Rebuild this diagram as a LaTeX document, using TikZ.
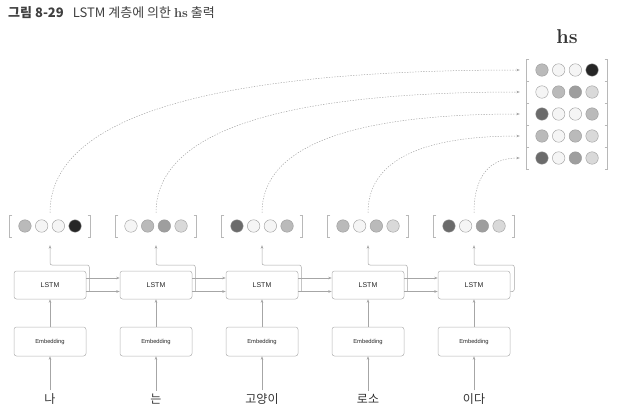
\documentclass[tikz,border=0pt]{standalone}
\usepackage{fontspec}
\newfontfamily\sans{Liberation Sans}
\newfontfamily\kr{Noto Sans CJK KR}
\usetikzlibrary{arrows.meta,calc}

\colorlet{cw}{black!4}
\colorlet{cl}{black!15}
\colorlet{cm}{black!27}
\colorlet{cd}{black!38}
\colorlet{ck}{black!58}
\colorlet{cb}{black!85}

\tikzset{
  line/.style={draw=black!35, line width=0.5pt},
  tip/.style={-{Stealth[length=3.5pt,width=2.6pt]}},
  link/.style={line, dash pattern=on 1.3pt off 1.4pt, -{Stealth[length=3.5pt,width=2.6pt]}},
  layer/.style={draw=black!30, line width=0.5pt, rounded corners=2.5pt, minimum width=72, minimum height=28, inner sep=0, text=black!85},
  vecbox/.style={minimum width=81, minimum height=22, inner sep=0},
  bracket/.style={draw=black!28, line width=0.5pt},
  dot/.style={circle, draw=black!40, line width=0.4pt, minimum size=12.5, inner sep=0},
  word/.style={font=\kr\fontsize{12}{14}\selectfont, text=black!80, inner sep=3pt},
}

% one bracketed vector: name, position, colours
\newcommand{\outvec}[3]{%
  \node[vecbox] (#1) at (#2) {};
  \draw[bracket] ([xshift=3]#1.north west) -- (#1.north west) -- (#1.south west) -- ([xshift=3]#1.south west);
  \draw[bracket] ([xshift=-3]#1.north east) -- (#1.north east) -- (#1.south east) -- ([xshift=-3]#1.south east);
  \foreach \col [count=\k] in {#3}
    \node[dot, fill=\col] (#1-\k) at ([xshift={(\k-2.5)*16.7}]#1.center) {};
}

\begin{document}
\begin{tikzpicture}[x=1pt, y=-1pt]
  \useasboundingbox (0,0) rectangle (627,416);
  % title
  \node[anchor=west, inner sep=0, text=black!75, font=\kr\fontsize{13}{15}\selectfont] (title) at (8,13)
    {\textbf{그림 8-29}\hspace{0.7em}LSTM 계층에 의한 {\rmfamily\bfseries hs} 출력};

  % one column per word
  \foreach \x/\w [count=\i] in {50/나, 156/는, 262/고양이, 368/로소, 474/이다} {
    \node[layer, font=\sans\fontsize{7}{8}\selectfont] (l\i) at (\x,285) {LSTM};
    \node[layer, minimum height=29, font=\sans\fontsize{5.8}{6}\selectfont] (e\i) at (\x,341.5) {Embedding};
    \node[word] (w\i) at (\x,399) {\w};
    \draw[line, tip] (w\i) -- (e\i);
    \draw[line, tip] (e\i) -- (l\i);
  }

  % output of each step
  \outvec{v1}{50,226}{cm,cw,cw,cb}
  \outvec{v2}{156,226}{cw,cm,cd,cl}
  \outvec{v3}{262,226}{ck,cw,cw,cm}
  \outvec{v4}{368,226}{cm,cw,cm,cl}
  \outvec{v5}{474,226}{ck,cw,cd,cl}

  % hs
  \node[font=\bfseries\fontsize{20}{22}\selectfont, text=black!80] (hslabel) at (567,37) {hs};
  \outvec{h1}{567,70}{cm,cw,cw,cb}
  \outvec{h2}{567,92}{cw,cm,cd,cl}
  \outvec{h3}{567,114}{ck,cw,cw,cm}
  \outvec{h4}{567,136}{cm,cw,cm,cl}
  \outvec{h5}{567,158}{ck,cw,cd,cl}

  % c and h to the next step
  \foreach \i in {1,...,4} {
    \pgfmathtruncatemacro\j{\i+1}
    \draw[line, tip] ([yshift=7]l\i.east) -- ([yshift=7]l\j.west);
    \draw[line, tip] ([yshift=-6.5]l\i.east) -- ([yshift=-6.5]l\j.west);
  }

  % h up to the output
  \foreach \i in {1,...,4}
    \draw[line, tip, rounded corners=2] ([xshift=3,yshift=-6.5]l\i.east) -- ([xshift=3,yshift=20]l\i.east) -| ([yshift=-8]v\i.south);
  \draw[line, tip, rounded corners=2] ([yshift=-6.5]l5.east) -- ([xshift=4,yshift=-6.5]l5.east) -- ([xshift=4,yshift=20]l5.east) -| ([yshift=-8]v5.south);

  % each output into its row of hs
  \foreach \i in {1,...,5} {
    \coordinate (s\i) at ([yshift=2]v\i.north);
    \coordinate (t\i) at ([xshift=-6.5]h\i.west);
    \draw[link] (s\i) .. controls ($(s\i)!0.65!(s\i |- t\i)$) and ($(t\i)!0.68!(s\i |- t\i)$) .. (t\i);
  }
\end{tikzpicture}
\end{document}
